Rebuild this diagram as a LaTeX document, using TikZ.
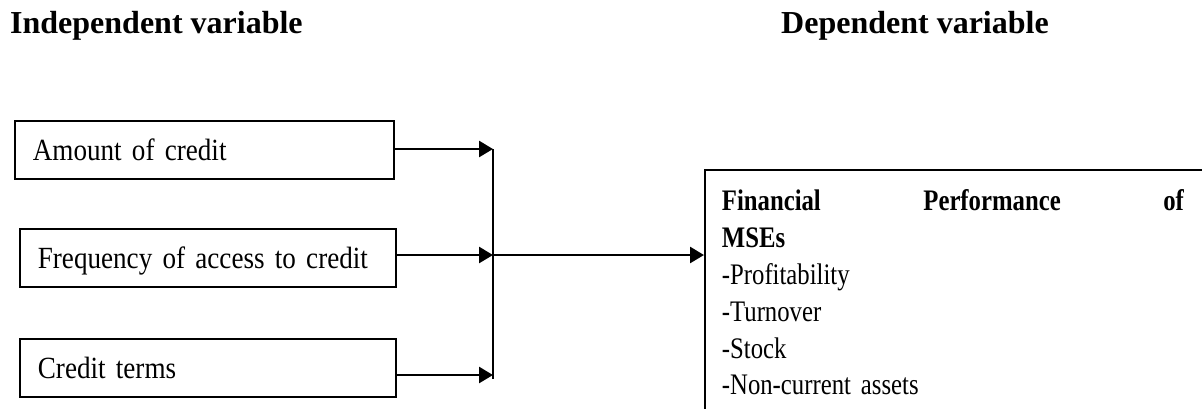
\documentclass[tikz,border=0pt]{standalone}
\usepackage{fontspec}
\setmainfont{Liberation Serif}
\newfontfamily\boxfont{Liberation Serif}[FakeStretch=0.88, WordSpace=0.7]
\newfontfamily\perffont{Liberation Serif}[FakeStretch=0.83, WordSpace=0.7]
\usetikzlibrary{arrows.meta}

\begin{document}
\begin{tikzpicture}[x=1pt, y=-1pt,
  title/.style={anchor=base west, inner sep=0pt, font=\fontsize{32}{36}\selectfont\bfseries},
  varbox/.style={draw, line width=1.8pt, anchor=north west, minimum height=58pt,
    text width=340pt, inner xsep=18pt, align=left, text height=20.5pt, text depth=0pt,
    font=\boxfont\fontsize{30.8}{36}\selectfont},
  link/.style={line width=2.6pt, -{Triangle[length=14pt,width=16pt]}}]
  \useasboundingbox (0,0) rectangle (1202,408);
  \clip (0,0) rectangle (1202,408);

  \node[title] (indep) at (10,33) {Independent variable};
  \node[title] (dep) at (781,33) {Dependent variable};

  \node[varbox, text width=343pt] (amount) at (14,120) {Amount of credit};
  \node[varbox] (freq) at (19,228) {Frequency of access to credit};
  \node[varbox] (terms) at (19,338) {Credit terms};

  \node[draw, line width=1.8pt, anchor=north west, inner xsep=17pt, inner ysep=20pt,
    text width=490pt, align=left, font=\perffont\fontsize{29.8}{36.8}\selectfont]
    (perf) at (704,169)
    {\makebox[462pt][l]{\bfseries Financial\hfill Performance\hfill of}\\
     \textbf{MSEs}\\
     -Profitability\\
     -Turnover\\
     -Stock\\
     -Non-current assets};

  \coordinate (j1) at (493,149);
  \coordinate (j2) at (493,255);
  \coordinate (j3) at (493,375);
  \coordinate (jend) at (493,379);

  \draw[link] (amount.east |- j1) -- (j1);
  \draw[link] (freq.east |- j2) -- (j2);
  \draw[link] (terms.east |- j3) -- (j3);
  \draw[line width=2pt] (j1) -- (jend);
  \draw[link] (j2) -- (perf.west |- j2);
\end{tikzpicture}
\end{document}
